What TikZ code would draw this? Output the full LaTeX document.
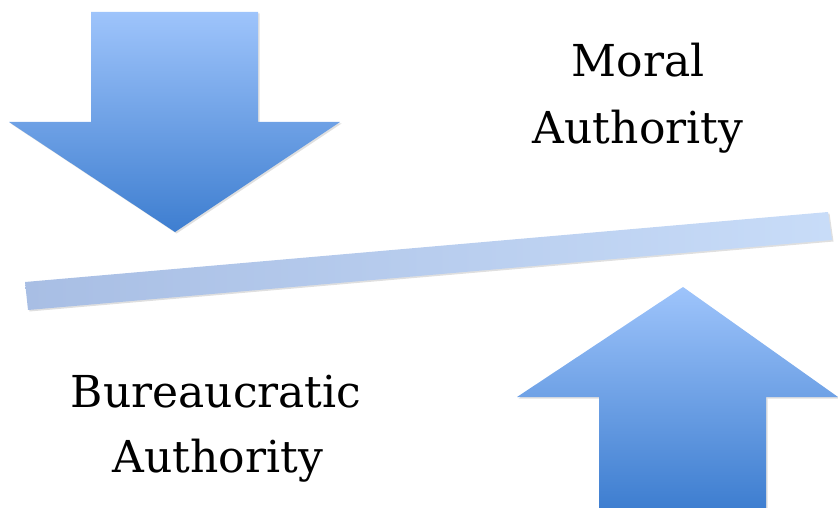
\documentclass[tikz,border=0pt]{standalone}
\usepackage{fontspec}
\setmainfont{DejaVu Serif}
\usetikzlibrary{shadows}
\definecolor{arrowlight}{RGB}{158,196,251}
\definecolor{arrowdark}{RGB}{62,126,208}
\definecolor{barleft}{RGB}{168,190,228}
\definecolor{barright}{RGB}{200,220,248}
\tikzstyle{bigarrow}=[drop shadow={opacity=0.25,shadow xshift=1.5pt,shadow yshift=-1.5pt}]
\tikzstyle{downarrow}=[bigarrow,top color=arrowlight,bottom color=arrowdark]
\tikzstyle{uparrow}=[bigarrow,top color=arrowlight,bottom color=arrowdark]
\tikzstyle{beam}=[bigarrow,left color=barleft,right color=barright]
\tikzstyle{label}=[anchor=base,inner sep=0pt,font=\fontsize{44}{50}\selectfont]

\begin{document}
\begin{tikzpicture}[x=1pt,y=-1pt]
    \useasboundingbox (0,0) rectangle (838,508);

    % pressure from above
    \path[downarrow] (91,12) -- (258,12) -- (258,122) -- (340,122) -- (175,232)
        -- (9,122) -- (91,122) -- cycle;

    % the tilted beam
    \path[beam] (25,282) -- (828,212) -- (832,240) -- (28,310) -- cycle;

    % pressure from below
    \path[uparrow] (599,508) -- (599,397) -- (517,397) -- (683,287) -- (838,397)
        -- (766,397) -- (766,508) -- cycle;

    \node[label] (moral) at (638,77) {Moral};
    \node[label] (moralauth) at (638,143) {Authority};
    \node[label] (bureau) at (216,407) {Bureaucratic};
    \node[label] (bureauauth) at (218,472) {Authority};

\end{tikzpicture}
\end{document}
